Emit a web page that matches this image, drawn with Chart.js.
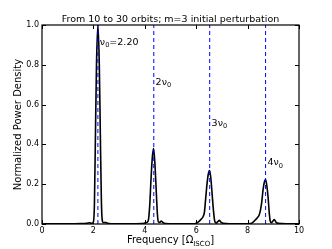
<!DOCTYPE html>
<html>
<head>
<meta charset="utf-8">
<script src="https://cdn.jsdelivr.net/npm/chart.js@4"></script>
<style>
  html, body { margin: 0; padding: 0; background: #fff; }
  #wrap { width: 332px; height: 249px; }
</style>
</head>
<body>
<div id="wrap"><canvas id="c" width="332" height="249"></canvas></div>
<script>
// power spectrum
const freq = [0, 0.5, 1.0, 1.5, 1.75, 1.85, 1.93, 2.0, 2.04, 2.08, 2.12, 2.175, 2.23, 2.27, 2.31, 2.35, 2.4, 2.45, 2.55, 2.8,
  3.3, 3.9, 4.02, 4.08, 4.14, 4.19, 4.24, 4.29, 4.34, 4.39, 4.44, 4.49, 4.53, 4.58, 4.64, 4.7, 4.8, 5.2,
  5.9, 5.98, 6.1, 6.2, 6.27, 6.32, 6.37, 6.42, 6.47, 6.52, 6.57, 6.62, 6.67, 6.72, 6.78, 6.84, 6.9, 6.96, 7.05, 7.3,
  7.8, 8.1, 8.18, 8.28, 8.38, 8.45, 8.5, 8.55, 8.6, 8.65, 8.7, 8.75, 8.8, 8.84, 8.88, 8.93, 8.98, 9.04, 9.1, 9.2, 9.5, 10];
const power = [0, 0.001, 0.001, 0.002, 0.004, 0.006, 0.003, 0.01, 0.1, 0.45, 0.8, 1.0, 0.8, 0.45, 0.12, 0.015, 0.006, 0.008, 0.004, 0.001,
  0.001, 0.002, 0.006, 0.008, 0.02, 0.09, 0.22, 0.33, 0.38, 0.31, 0.18, 0.05, 0.01, 0.008, 0.015, 0.008, 0.002, 0.001,
  0.001, 0.003, 0.012, 0.025, 0.038, 0.06, 0.13, 0.2, 0.25, 0.268, 0.23, 0.15, 0.07, 0.015, 0.004, 0.012, 0.018, 0.01, 0.003, 0.001,
  0.001, 0.002, 0.006, 0.018, 0.032, 0.045, 0.07, 0.11, 0.17, 0.21, 0.223, 0.19, 0.13, 0.06, 0.015, 0.006, 0.014, 0.022, 0.01, 0.003, 0.001, 0.001];

// harmonics of nu0 and their labels
const harmonics = [2.175, 4.35, 6.525, 8.7];
const harmLabels = [["ν", "0", "=2.20"], ["2ν", "0", ""], ["3ν", "0", ""], ["4ν", "0", ""]];
const labelX = [2.25, 4.42, 6.6, 8.77];
const labelY = [0.915, 0.715, 0.51, 0.31];

const xTicks = [0, 2, 4, 6, 8, 10];
const yTicks = [0, 0.2, 0.4, 0.6, 0.8, 1.0];

const FONT = "'DejaVu Sans', sans-serif";

const datasets = harmonics.map(h => ({
  data: [{x: h, y: 0}, {x: h, y: 1}],
  borderColor: '#0000ff',
  borderWidth: 1,
  borderDash: [4, 3],
  pointRadius: 0
}));
datasets.push({
  data: freq.map((f, i) => ({x: f, y: power[i]})),
  borderColor: '#000000',
  borderWidth: 1.6,
  pointRadius: 0,
  cubicInterpolationMode: 'monotone'
});

function subText(ctx, x, y, parts, size) {
  ctx.textAlign = 'left';
  ctx.textBaseline = 'alphabetic';
  ctx.font = size + 'px ' + FONT;
  ctx.fillText(parts[0], x, y);
  x += ctx.measureText(parts[0]).width;
  ctx.font = (size * 0.7) + 'px ' + FONT;
  ctx.fillText(parts[1], x, y + size * 0.25);
  x += ctx.measureText(parts[1]).width;
  ctx.font = size + 'px ' + FONT;
  if (parts[2]) ctx.fillText(parts[2], x, y);
  return x + ctx.measureText(parts[2] || '').width;
}

const decorations = {
  id: 'decorations',
  afterDraw(chart) {
    const ctx = chart.ctx;
    const a = chart.chartArea;
    const xs = chart.scales.x, ys = chart.scales.y;
    ctx.save();
    ctx.strokeStyle = '#000';
    ctx.lineWidth = 1;
    // inward ticks on all sides
    ctx.beginPath();
    xTicks.forEach(t => {
      const px = Math.round(xs.getPixelForValue(t)) + 0.5;
      ctx.moveTo(px, a.bottom); ctx.lineTo(px, a.bottom - 4);
      ctx.moveTo(px, a.top); ctx.lineTo(px, a.top + 4);
    });
    yTicks.forEach(t => {
      const py = Math.round(ys.getPixelForValue(t)) + 0.5;
      ctx.moveTo(a.left, py); ctx.lineTo(a.left + 4, py);
      ctx.moveTo(a.right, py); ctx.lineTo(a.right - 4, py);
    });
    ctx.stroke();
    ctx.lineWidth = 1.2;
    ctx.strokeRect(a.left, a.top, a.right - a.left, a.bottom - a.top);

    ctx.fillStyle = '#000';
    // harmonic labels
    harmLabels.forEach((p, i) => {
      subText(ctx, xs.getPixelForValue(labelX[i]), ys.getPixelForValue(labelY[i]) + 3, p, 9.5);
    });

    // title
    ctx.font = '9.5px ' + FONT;
    ctx.textAlign = 'center';
    ctx.textBaseline = 'alphabetic';
    ctx.fillText('From 10 to 30 orbits; m=3 initial perturbation', (a.left + a.right) / 2, 22);

    // x axis title with subscript
    ctx.font = '10px ' + FONT;
    const p1 = 'Frequency [Ω', p2 = 'ISCO', p3 = ']';
    const w1 = ctx.measureText(p1).width, w3 = ctx.measureText(p3).width;
    ctx.font = '7px ' + FONT;
    const w2 = ctx.measureText(p2).width;
    let x0 = (a.left + a.right) / 2 - (w1 + w2 + w3) / 2;
    subText(ctx, x0, 243, [p1, p2, p3], 10);

    // y axis title
    ctx.translate(18, (a.top + a.bottom) / 2);
    ctx.rotate(-Math.PI / 2);
    ctx.font = '10px ' + FONT;
    ctx.textAlign = 'center';
    ctx.textBaseline = 'middle';
    ctx.fillText('Normalized Power Density', 0, 0);
    ctx.restore();
  }
};

new Chart(document.getElementById('c').getContext('2d'), {
  type: 'line',
  data: { datasets: datasets },
  options: {
    responsive: false,
    animation: false,
    events: [],
    layout: { padding: { top: 25, right: 33, left: 0, bottom: 0 } },
    plugins: { legend: { display: false }, tooltip: { enabled: false }, title: { display: false } },
    scales: {
      x: {
        type: 'linear', min: 0, max: 10,
        afterFit(s) { s.height = 25; },
        afterBuildTicks(s) { s.ticks = xTicks.map(v => ({value: v})); },
        ticks: { color: '#000', font: { family: FONT, size: 8 }, padding: 2, maxRotation: 0,
          callback: v => String(v) },
        grid: { display: false, drawTicks: false },
        border: { display: false }
      },
      y: {
        min: 0, max: 1,
        afterFit(s) { s.width = 42; },
        afterBuildTicks(s) { s.ticks = yTicks.map(v => ({value: v})); },
        ticks: { color: '#000', font: { family: FONT, size: 8 }, padding: 3,
          callback: v => v.toFixed(1) },
        grid: { display: false, drawTicks: false },
        border: { display: false }
      }
    }
  },
  plugins: [decorations]
});
</script>
</body>
</html>
